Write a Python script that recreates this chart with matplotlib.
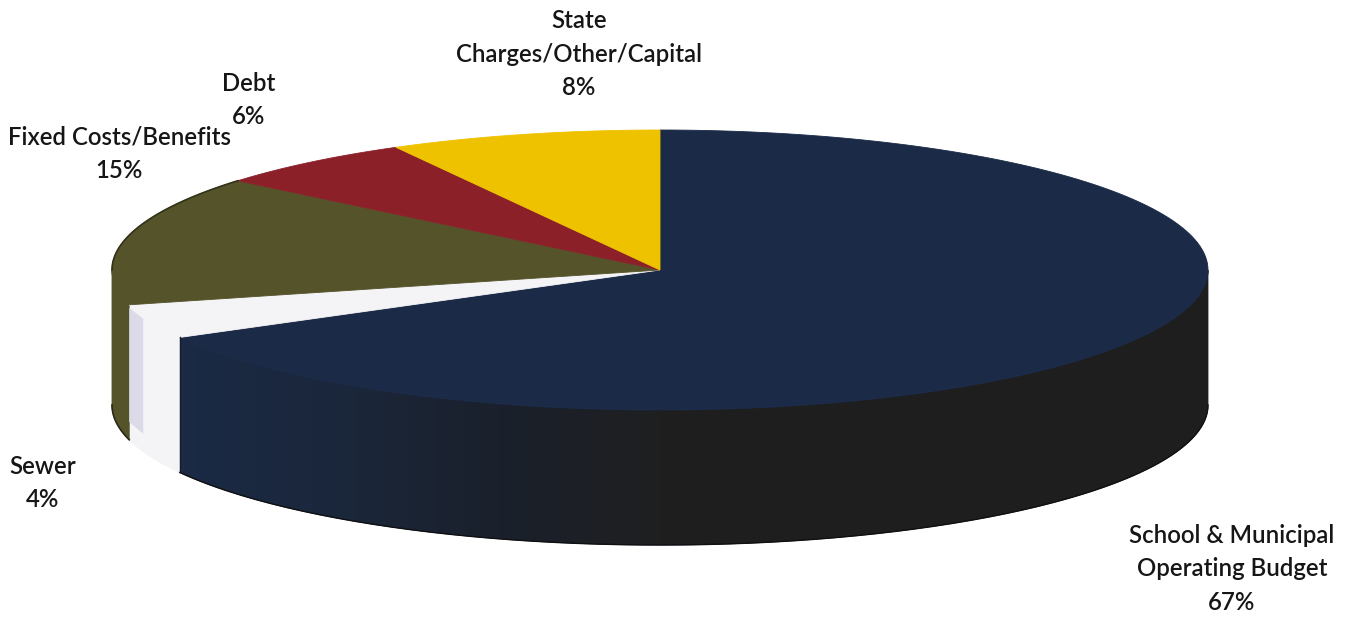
import numpy as np
import matplotlib
matplotlib.use('Agg')
import matplotlib.pyplot as plt
from matplotlib.colors import LinearSegmentedColormap
from matplotlib.patches import Polygon

plt.rcParams['font.family'] = ['Lato', 'DejaVu Sans']

# slices, clockwise from twelve o'clock
names = ['School & Municipal\nOperating Budget', 'Sewer', 'Fixed Costs/Benefits',
         'Debt', 'State\nCharges/Other/Capital']
shares = [67, 4, 15, 6, 8]
colors = ['#1a2a47', '#f4f3f6', '#55532a', '#8c2029', '#efc200']
label_x = [1232, 43, 119, 249, 579]
label_y = [569, 483, 154, 100, 54]

cx, cy = 660, 270
rx, ry = 548, 140
depth = 135


def arc(a0, a1, drop=0):
    t = np.radians(np.linspace(a0, a1, 200))
    return np.column_stack([cx + rx * np.cos(t), cy - ry * np.sin(t) + drop])


fig = plt.figure(figsize=(13.46, 6.18), dpi=100)
ax = fig.add_axes([0, 0, 1, 1])

ends = 90 - 3.6 * np.cumsum(shares)
starts = np.r_[90, ends[:-1]]

# side walls first: only the part of each slice on the near half of the rim
for a0, a1, c in zip(starts, ends, colors):
    hi = min(a0, 0)
    lo = max(a1, -180)
    if hi <= lo:
        continue
    wall = np.vstack([arc(hi, lo), arc(lo, hi, depth)])
    patch = Polygon(wall, closed=True, fc=c, ec=c, lw=0.6)
    ax.add_patch(patch)
    if c == colors[0]:
        # navy wall fades to near black towards the right
        cmap = LinearSegmentedColormap.from_list('wall', [(0, '#1b2a45'), (0.17, '#1a2639'),
                                                          (0.33, '#1b202a'), (0.47, '#1f1f20'),
                                                          (1, '#1e1e1e')])
        img = ax.imshow(np.linspace(0, 1, 256)[None, :], cmap=cmap, aspect='auto',
                        extent=[wall[:, 0].min(), wall[:, 0].max(), wall[:, 1].max(), wall[:, 1].min()],
                        zorder=1.5)
        img.set_clip_path(patch)
        ax.plot(*arc(hi, lo, depth).T, color='#101012', lw=1, zorder=1.6)
        x_cut, y_cut = arc(lo, lo)[0]
        ax.plot([x_cut, x_cut], [y_cut, y_cut + depth], color='#141c2c', lw=1, zorder=2.2)
    if c == colors[1]:
        # shaded strip on the cut edge of the white slice
        x0, y0 = arc(lo, lo)[0]
        ax.fill([x0, x0 + 14, x0 + 14, x0], [y0 + 3, y0 + 14, y0 + depth - 6, y0 + depth - 18],
                color='#dcdae8', ec='none', zorder=1.4)
    if c == colors[2]:
        ax.plot(*arc(hi, lo, depth).T, color='#2a2a18', lw=1.2, zorder=1.6)

# top faces
for a0, a1, c in zip(starts, ends, colors):
    face = np.vstack([[cx, cy], arc(a0, a1)])
    ax.add_patch(Polygon(face, closed=True, fc=c, ec=c, lw=0.6, zorder=2))
    if c == colors[2]:
        # dark rim only along the back of the olive slice
        ax.plot(*arc(-180, a1).T, color='#33321a', lw=1.2, zorder=2.1)

for name, share, x, y in zip(names, shares, label_x, label_y):
    ax.text(x, y, f'{name}\n{share}%', ha='center', va='center', fontsize=17.3,
            fontweight='semibold', color='#161616', linespacing=1.55, zorder=3)

ax.set_xlim(0, 1346)
ax.set_ylim(618, 0)
ax.axis('off')

fig.savefig('out.png', dpi=100, facecolor='white')
